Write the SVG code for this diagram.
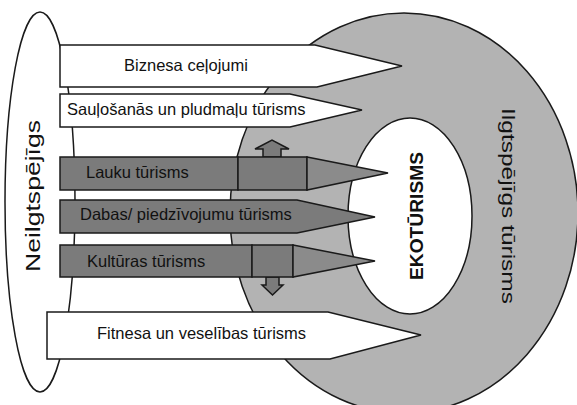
<svg xmlns="http://www.w3.org/2000/svg" width="577" height="405" viewBox="0 0 577 405">
<style>
.ln{stroke:#1a1a1a;stroke-width:1.5;stroke-linejoin:miter}
.w{fill:#fff}
.d{fill:#7b7b7b}
.t{fill:#8b8b8b}
.ring{fill:#b3b3b3}
.lbl{font-family:"Liberation Sans",Arial,sans-serif;font-size:16.5px;fill:#111}
.big{font-family:"Liberation Sans",Arial,sans-serif;fill:#111}
</style>
<rect x="0" y="0" width="577" height="405" fill="#fff"/>
<g id="neilgtspejigs">
  <ellipse class="ln w" cx="40" cy="202" rx="35" ry="190"/>
  <text class="big" font-size="21" text-anchor="middle" transform="translate(40,196) rotate(-90)" textLength="152" lengthAdjust="spacingAndGlyphs">Neilgtspējīgs</text>
</g>
<g id="ilgtspejigs">
  <ellipse class="ln ring" cx="404" cy="213" rx="174" ry="200"/>
  <text class="big" font-size="19" text-anchor="middle" transform="translate(502,206) rotate(90)" textLength="196" lengthAdjust="spacingAndGlyphs">Ilgtspējīgs tūrisms</text>
</g>
<g id="ekoturisms">
  <ellipse class="ln w" cx="410" cy="216" rx="62" ry="98"/>
  <text class="big" font-size="19" font-weight="bold" text-anchor="middle" transform="translate(423,216) rotate(-90)" textLength="128" lengthAdjust="spacingAndGlyphs">EKOTŪRISMS</text>
</g>
<g id="biznesa">
  <polygon class="ln w" points="60,45 315,45 402,66 317,87 60,87"/>
  <text class="lbl" x="186" y="71" text-anchor="middle">Biznesa ceļojumi</text>
</g>
<g id="saulosanas">
  <polygon class="ln w" points="60,94 290,94 362,110 290,127 60,127"/>
  <text class="lbl" x="67" y="115">Sauļošanās un pludmaļu tūrisms</text>
</g>
<g id="arrows">
  <polygon class="ln d" points="263,157 263,149 255,149 272,140 289,149 281,149 281,157"/>
  <polygon class="ln d" points="266,277 266,285 262,285 272.5,295 283,285 279,285 279,277"/>
</g>
<g id="lauku">
  <rect class="ln d" x="60" y="157" width="178" height="33"/>
  <rect class="ln d" x="238" y="157" width="69" height="33"/>
  <polygon class="ln t" points="307,157 388,173 307,190"/>
  <text class="lbl" x="86" y="178">Lauku tūrisms</text>
</g>
<g id="dabas">
  <polygon class="ln d" points="60,200 297,200 375,217 297,233 60,233"/>
  <text class="lbl" x="80" y="220">Dabas/ piedzīvojumu tūrisms</text>
</g>
<g id="kulturas">
  <rect class="ln d" x="60" y="245" width="192" height="32"/>
  <rect class="ln d" x="252" y="245" width="41" height="32"/>
  <polygon class="ln t" points="293,245 375,261 293,277"/>
  <text class="lbl" x="87" y="267">Kultūras tūrisms</text>
</g>
<g id="fitnesa">
  <polygon class="ln w" points="47,312 328,312 421,335 330,359 47,359"/>
  <text class="lbl" x="97" y="339">Fitnesa un veselības tūrisms</text>
</g>
</svg>
